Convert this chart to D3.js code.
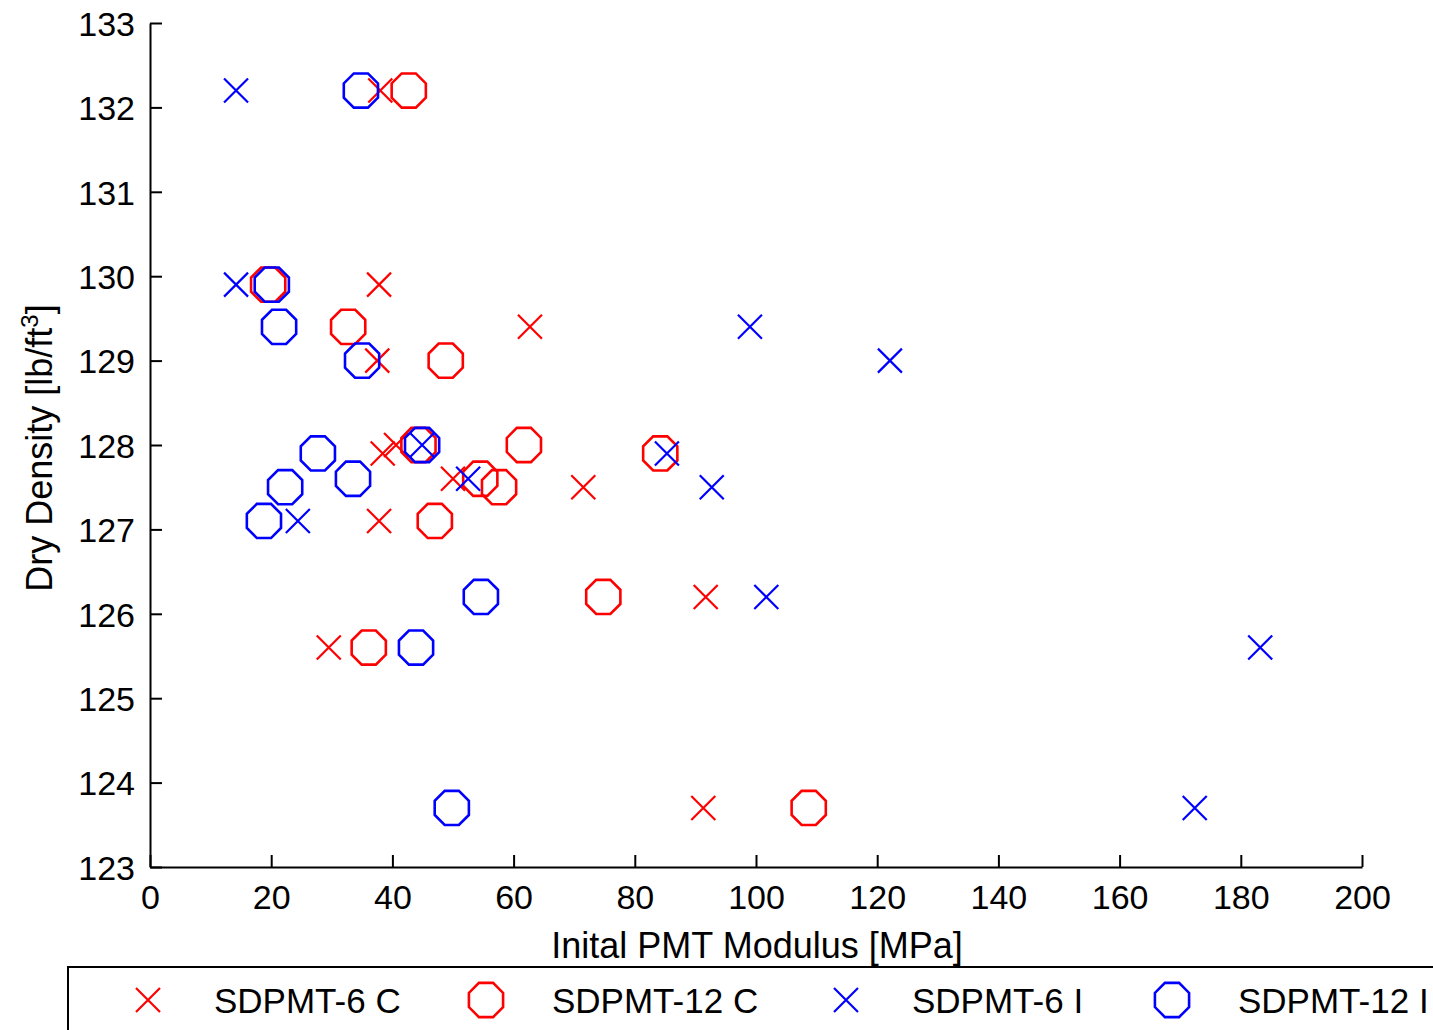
<!DOCTYPE html>
<html>
<head>
<meta charset="utf-8">
<title>Dry density vs PMT modulus</title>
<style>
body { margin: 0; background: #fff; }
text { font-family: "Liberation Sans", Arial, sans-serif; fill: #000; }
.axis path, .axis line { stroke: #000; stroke-width: 2px; }
</style>
</head>
<body>
<script src="https://cdn.jsdelivr.net/npm/d3@7"></script>
<script>

// data: [modulus MPa, dry density lb/ft3]
var sdpmt6C = [
  [38.0, 132.2], [37.8, 129.9], [62.7, 129.4], [37.5, 129.0], [40.6, 128.0],
  [38.4, 127.9], [50.0, 127.6], [71.5, 127.5], [37.8, 127.1], [91.7, 126.2],
  [29.5, 125.6], [91.3, 123.7]
];
var sdpmt12C = [
  [42.7, 132.2], [19.5, 129.9], [32.7, 129.4], [48.8, 129.0], [61.7, 128.0],
  [44.3, 128.0], [84.2, 127.9], [54.5, 127.6], [57.6, 127.5], [47.0, 127.1],
  [74.8, 126.2], [36.1, 125.6], [108.7, 123.7]
];
var sdpmt6I = [
  [14.2, 132.2], [14.2, 129.9], [99.0, 129.4], [122.1, 129.0], [44.9, 128.0],
  [85.3, 127.9], [52.5, 127.6], [92.7, 127.5], [24.4, 127.1], [101.7, 126.2],
  [183.2, 125.6], [172.4, 123.7]
];
var sdpmt12I = [
  [34.8, 132.2], [20.1, 129.9], [21.3, 129.4], [35.0, 129.0], [44.9, 128.0],
  [27.7, 127.9], [33.5, 127.6], [22.3, 127.5], [18.8, 127.1], [54.6, 126.2],
  [43.9, 125.6], [49.8, 123.7]
];

var seriesNames = ["SDPMT-6 C", "SDPMT-12 C", "SDPMT-6 I", "SDPMT-12 I"];
var xTicks = [0, 20, 40, 60, 80, 100, 120, 140, 160, 180, 200];
var yTicks = [123, 124, 125, 126, 127, 128, 129, 130, 131, 132, 133];

var series = [
  { name: seriesNames[0], data: sdpmt6C,  color: "#ff0000", shape: "x" },
  { name: seriesNames[1], data: sdpmt12C, color: "#ff0000", shape: "o" },
  { name: seriesNames[2], data: sdpmt6I,  color: "#0000ff", shape: "x" },
  { name: seriesNames[3], data: sdpmt12I, color: "#0000ff", shape: "o" }
];

var width = 1433, height = 1030;
var margin = { left: 150, right: 71, top: 23, bottom: 163 };

var svg = d3.select("body").append("svg")
    .attr("width", width)
    .attr("height", height);

var x = d3.scaleLinear().domain([0, 200]).range([margin.left, width - margin.right]);
var y = d3.scaleLinear().domain([123, 133]).range([height - margin.bottom, margin.top]);

var xAxis = svg.append("g")
    .attr("class", "axis")
    .attr("transform", "translate(0," + (height - margin.bottom) + ")")
    .call(d3.axisBottom(x).tickValues(xTicks).tickSizeInner(-12).tickSizeOuter(0).tickPadding(18));
xAxis.selectAll("text").attr("font-size", "34px");

var yAxis = svg.append("g")
    .attr("class", "axis")
    .attr("transform", "translate(" + margin.left + ",0)")
    .call(d3.axisLeft(y).tickValues(yTicks).tickSizeInner(-12).tickSizeOuter(0).tickPadding(15));
yAxis.selectAll("text").attr("font-size", "34px");
yAxis.selectAll("text").attr("dy", "0.36em");

// axis titles
svg.append("text")
    .attr("x", (x(0) + x(200)) / 2 + 1)
    .attr("y", 958)
    .attr("text-anchor", "middle")
    .attr("font-size", "36px")
    .text("Inital PMT Modulus [MPa]");

var yl = svg.append("text")
    .attr("transform", "translate(52," + ((y(123) + y(133)) / 2 + 3) + ") rotate(-90)")
    .attr("text-anchor", "middle")
    .attr("font-size", "36px");
yl.append("tspan").text("Dry Density [lb/ft");
yl.append("tspan").attr("font-size", "24px").attr("dy", "-14").text("3");
yl.append("tspan").attr("dy", "14").text("]");

// MATLAB-like octagon marker
function octagon(r) {
  var pts = d3.range(8).map(function(i) {
    var a = Math.PI / 8 + i * Math.PI / 4;
    return [r * Math.cos(a), r * Math.sin(a)];
  });
  return "M" + pts.join("L") + "Z";
}

function drawMarker(g, shape, color) {
  if (shape === "x") {
    var s = 12;
    g.append("path")
      .attr("d", "M" + (-s) + "," + (-s) + "L" + s + "," + s + "M" + (-s) + "," + s + "L" + s + "," + (-s))
      .attr("stroke", color)
      .attr("stroke-width", 2.2)
      .attr("fill", "none");
  } else {
    g.append("path")
      .attr("d", octagon(18.5))
      .attr("stroke", color)
      .attr("stroke-width", 2.6)
      .attr("fill", "none");
  }
}

var plot = svg.append("g");
series.forEach(function(s) {
  plot.append("g").selectAll("g")
      .data(s.data)
      .enter().append("g")
      .attr("transform", function(d) { return "translate(" + x(d[0]) + "," + y(d[1]) + ")"; })
      .each(function() { drawMarker(d3.select(this), s.shape, s.color); });
});

// legend
var legend = svg.append("g");
legend.append("rect")
    .attr("x", 68)
    .attr("y", 967)
    .attr("width", 1400)
    .attr("height", 100)
    .attr("fill", "#fff")
    .attr("stroke", "#000")
    .attr("stroke-width", 2);

var legendX = [148, 486, 846, 1172];
series.forEach(function(s, i) {
  var g = legend.append("g").attr("transform", "translate(" + legendX[i] + ",1000)");
  drawMarker(g, s.shape, s.color);
  g.append("text")
    .attr("x", 66)
    .attr("y", 0)
    .attr("dy", "0.36em")
    .attr("font-size", "35px")
    .text(s.name);
});

</script>
</body>
</html>
